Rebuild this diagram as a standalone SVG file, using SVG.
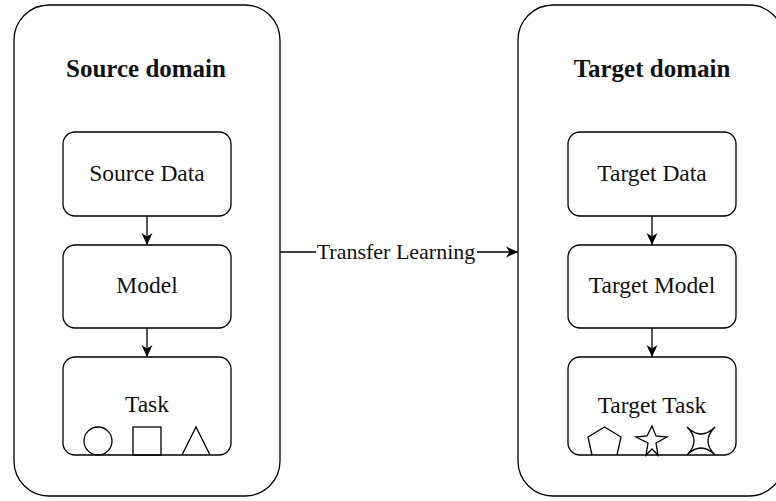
<svg xmlns="http://www.w3.org/2000/svg" width="776" height="501" viewBox="0 0 776 501">
  <style>
    .domain { fill: #ffffff; stroke: #000000; stroke-width: 1.3; }
    .box { fill: #ffffff; stroke: #000000; stroke-width: 1.3; }
    .shape { fill: none; stroke: #000000; stroke-width: 1.3; }
    .title { font-family: "Liberation Serif", "Times New Roman", serif; font-size: 25px; font-weight: bold; fill: #111111; text-anchor: middle; }
    .label { font-family: "Liberation Serif", "Times New Roman", serif; font-size: 23.5px; fill: #111111; text-anchor: middle; }
    .edge-label { font-family: "Liberation Serif", "Times New Roman", serif; font-size: 22px; fill: #111111; text-anchor: middle; }
    .link { fill: none; stroke: #000000; stroke-width: 1.3; }
  </style>
  <defs>
    <marker id="arrow" viewBox="0 0 13 13" refX="12" refY="6.5" markerWidth="13" markerHeight="13" markerUnits="userSpaceOnUse" orient="auto">
      <path d="M0,1 L12,6.5 L0,12 L3.5,6.5 Z" fill="#000000"/>
    </marker>
  </defs>
  <rect width="776" height="501" fill="#ffffff"/>

  <!-- source domain -->
  <g id="source-domain">
    <rect class="domain" x="14" y="5" width="266" height="491" rx="35" ry="35"/>
    <text class="title" x="146" y="77">Source domain</text>
  </g>
  <g id="source-data">
    <rect class="box" x="63" y="132" width="168" height="84" rx="12" ry="12"/>
    <text class="label" x="147" y="181">Source Data</text>
  </g>
  <g id="model">
    <rect class="box" x="63" y="245" width="168" height="83" rx="12" ry="12"/>
    <text class="label" x="147" y="293">Model</text>
  </g>
  <g id="task">
    <rect class="box" x="63" y="357" width="168" height="98" rx="12" ry="12"/>
    <text class="label" x="147" y="412">Task</text>
    <circle class="shape" cx="98" cy="441" r="14"/>
    <rect class="shape" x="133" y="427" width="28" height="28"/>
    <path class="shape" d="M182,455 L196,427 L210,455"/>
  </g>

  <!-- target domain -->
  <g id="target-domain">
    <rect class="domain" x="518" y="5" width="266" height="491" rx="35" ry="35"/>
    <text class="title" x="652" y="77">Target domain</text>
  </g>
  <g id="target-data">
    <rect class="box" x="568" y="132" width="168" height="84" rx="12" ry="12"/>
    <text class="label" x="652" y="181">Target Data</text>
  </g>
  <g id="target-model">
    <rect class="box" x="568" y="245" width="168" height="83" rx="12" ry="12"/>
    <text class="label" x="652" y="293">Target Model</text>
  </g>
  <g id="target-task">
    <rect class="box" x="568" y="357" width="168" height="98" rx="12" ry="12"/>
    <text class="label" x="652" y="413">Target Task</text>
    <!-- pentagon -->
    <path class="shape" d="M592,455 L588,437 L604.5,427 L621,437 L617,455"/>
    <!-- five-point star -->
    <path class="shape" d="M646,455 L648,443 L636,437 L647,436 L652,426 L656,436 L667,437 L656,443 L658,455 L652,449 Z"/>
    <!-- four-point concave star -->
    <path class="shape" d="M687,427 Q701,441 715,427 Q701,441 715,455 Q701,441 687,455 Q701,441 687,427 Z"/>
  </g>

  <!-- connectors -->
  <g id="connectors">
    <path class="link" d="M147,216 L147,245" marker-end="url(#arrow)"/>
    <path class="link" d="M147,328 L147,357" marker-end="url(#arrow)"/>
    <path class="link" d="M652,216 L652,245" marker-end="url(#arrow)"/>
    <path class="link" d="M652,328 L652,357" marker-end="url(#arrow)"/>
    <path class="link" d="M280,252 L316,252"/>
    <path class="link" d="M477,252 L518,252" marker-end="url(#arrow)"/>
    <text class="edge-label" x="396" y="259">Transfer Learning</text>
  </g>
</svg>
